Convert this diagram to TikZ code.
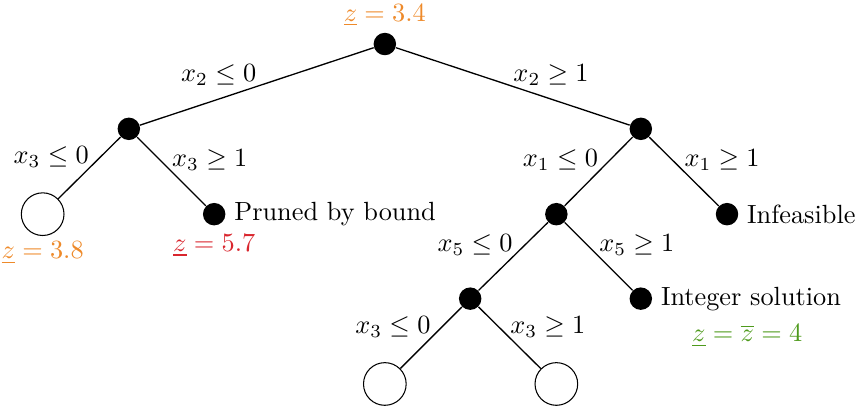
\documentclass[tikz,border=0pt]{standalone}
\usepackage{amsmath}
\usepackage{xcolor}
\usepackage{tikz}
\usetikzlibrary{positioning}
\definecolor{bborange}{HTML}{EE8A2A}
\definecolor{bbred}{HTML}{D9262E}
\definecolor{bbgreen}{HTML}{4E9A1C}

\begin{document}
\begin{tikzpicture}[
    x=1.14cm, y=1.14cm,
    solved/.style={circle, fill=black, inner sep=0pt, minimum size=0.30cm},
    open/.style={circle, draw=black, inner sep=0pt, minimum size=0.57cm},
    branch/.style={black, line width=0.5pt},
    cut/.style={inner sep=0pt},
    note/.style={font=\normalsize, inner sep=2pt},
  ]
  \useasboundingbox (0,0) rectangle (10.055,-4.758);

  % tree nodes
  \node[solved] (root) at (4.51,-0.516) {};
  \node[solved] (l) at (1.51,-1.51) {};
  \node[solved] (r) at (7.51,-1.51) {};
  \node[open] (ll) at (0.5,-2.51) {};
  \node[solved] (lr) at (2.51,-2.51) {};
  \node[solved] (rl) at (6.52,-2.51) {};
  \node[solved] (rr) at (8.52,-2.51) {};
  \node[solved] (rll) at (5.51,-3.5) {};
  \node[solved] (rlr) at (7.51,-3.5) {};
  \node[open] (rlll) at (4.51,-4.5) {};
  \node[open] (rllr) at (6.52,-4.5) {};

  % branches
  \draw[branch] (root) -- node[cut, above left] {$x_2 \leq 0$} (l);
  \draw[branch] (root) -- node[cut, above right] {$x_2 \geq 1$} (r);
  \draw[branch] (l) -- node[cut, above left] {$x_3 \leq 0$} (ll);
  \draw[branch] (l) -- node[cut, above right] {$x_3 \geq 1$} (lr);
  \draw[branch] (r) -- node[cut, above left] {$x_1 \leq 0$} (rl);
  \draw[branch] (r) -- node[cut, above right] {$x_1 \geq 1$} (rr);
  \draw[branch] (rl) -- node[cut, above left] {$x_5 \leq 0$} (rll);
  \draw[branch] (rl) -- node[cut, above right] {$x_5 \geq 1$} (rlr);
  \draw[branch] (rll) -- node[cut, above left] {$x_3 \leq 0$} (rlll);
  \draw[branch] (rll) -- node[cut, above right] {$x_3 \geq 1$} (rllr);

  % bounds and outcomes
  \node[note, text=bborange, above=0pt of root] (zroot) {$\underline{z} = 3.4$};
  \node[note, text=bborange, below=0pt of ll] (zll) {$\underline{z} = 3.8$};
  \node[note, text=bbred, below=1pt of lr] (zlr) {$\underline{z} = 5.7$};
  \node[note, right=1pt of lr] (pruned) {Pruned by bound};
  \node[note, right=1pt of rr] (infeas) {Infeasible};
  \node[note, right=1pt of rlr] (intsol) {Integer solution};
  \node[note, text=bbgreen, below=1pt of intsol, xshift=-0.05cm] (zint) {$\underline{z} = \overline{z} = 4$};
\end{tikzpicture}
\end{document}
